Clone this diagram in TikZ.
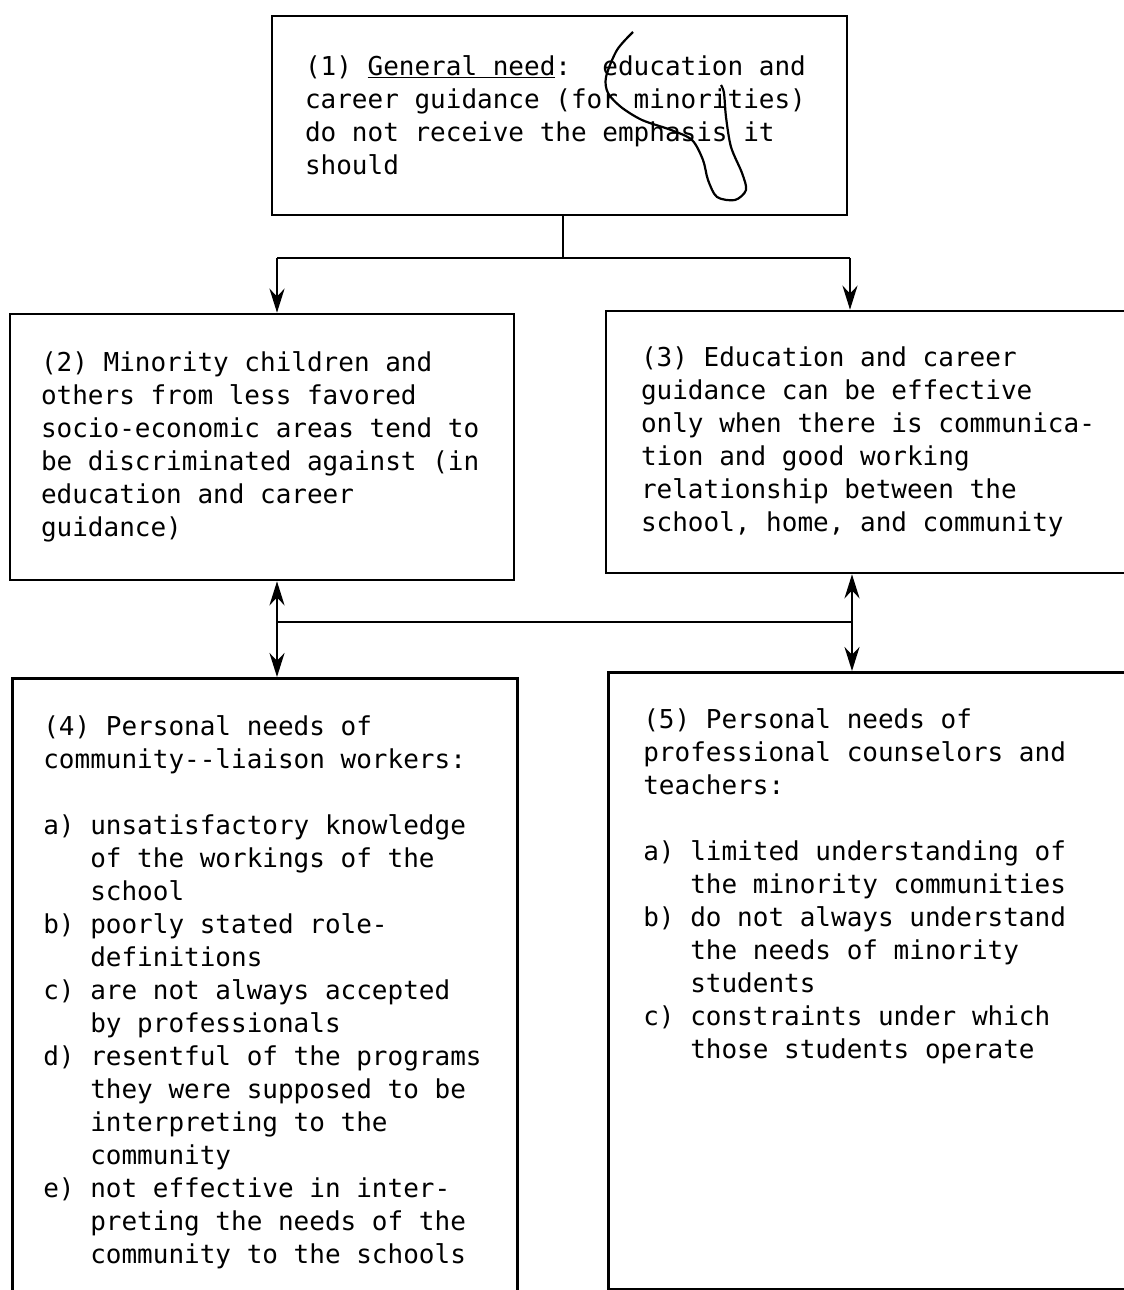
\documentclass[tikz,border=0pt]{standalone}
\usepackage{fontspec}
\setmonofont{DejaVu Sans Mono}
\usetikzlibrary{arrows.meta}

\begin{document}
\begin{tikzpicture}[x=1pt, y=-1pt, line width=2.6pt,
  >={Stealth[length=24pt,width=15pt]},
  needbox/.style={draw, align=left, inner ysep=0pt, font=\ttfamily\fontsize{26}{33}\selectfont,
    execute at begin node={\spaceskip=0pt\xspaceskip=0pt}},
  panel/.style={draw, anchor=north west, inner sep=0pt},
  itemlist/.style={anchor=north west, inner sep=0pt, align=left, font=\ttfamily\fontsize{26}{33}\selectfont}]
\useasboundingbox (0,0) rectangle (1124,1290);
\clip (0,0) rectangle (1124,1290);

% top box
\node[needbox, minimum width=575, minimum height=199, inner xsep=33, text width=509] (need) at (559.5,115.5)
  {(1) \underline{General need}:~ education and\\
   career guidance (for minorities)\\
   do not receive the emphasis it\\
   should};

% middle row
\node[needbox, minimum width=504, minimum height=266, inner xsep=31, text width=442] (discrim) at (262,447)
  {(2) Minority children and\\
   others from less favored\\
   socio-economic areas tend to\\
   be discriminated against (in\\
   education and career\\
   guidance)};
\node[needbox, minimum width=554, minimum height=262, inner xsep=35, text width=484] (commun) at (883,442)
  {(3) Education and career\\
   guidance can be effective\\
   only when there is communica-\\
   tion and good working\\
   relationship between the\\
   school, home, and community};

% bottom row
\node[panel, minimum width=505, minimum height=653] (liaison) at (11,677) {};
\node[panel, minimum width=553, minimum height=617] (counsel) at (607,671) {};

\node[itemlist] (liaisonlist) at ([shift={(31,37)}]liaison.north west)
  {(4) Personal needs of\\
   community--liaison workers:\\[33pt]
   a) unsatisfactory knowledge\\
   \hphantom{a)~}of the workings of the\\
   \hphantom{a)~}school\\
   b) poorly stated role-\\
   \hphantom{a)~}definitions\\
   c) are not always accepted\\
   \hphantom{a)~}by professionals\\
   d) resentful of the programs\\
   \hphantom{a)~}they were supposed to be\\
   \hphantom{a)~}interpreting to the\\
   \hphantom{a)~}community\\
   e) not effective in inter-\\
   \hphantom{a)~}preting the needs of the\\
   \hphantom{a)~}community to the schools};
\node[itemlist] (counsellist) at ([shift={(35,36)}]counsel.north west)
  {(5) Personal needs of\\
   professional counselors and\\
   teachers:\\[33pt]
   a) limited understanding of\\
   \hphantom{a)~}the minority communities\\
   b) do not always understand\\
   \hphantom{a)~}the needs of minority\\
   \hphantom{a)~}students\\
   c) constraints under which\\
   \hphantom{a)~}those students operate};

% connectors
\coordinate (fork) at (563,258);
\coordinate (forkL) at (277,258);
\coordinate (forkR) at (850,258);
\coordinate (midL) at (277,622);
\coordinate (midR) at (852,622);

\draw (fork |- need.south) -- (fork);
\draw (forkL) -- (forkR);
\draw[->] (forkL) -- (forkL |- discrim.north);
\draw[->] (forkR) -- (forkR |- commun.north);

\draw[<->] (midL |- discrim.south) -- (midL |- liaison.north);
\draw[<->] (midR |- commun.south) -- (midR |- counsel.north);
\draw (midL) -- (midR);

% pen mark
\draw[line width=2.2pt] plot[smooth] coordinates {(633,32) (617,50) (606,77) (608,93) (621,107) (642,120)
  (671,130) (692,140) (703,160) (708,180) (717,197) (735,200) (746,190) (742,173) (731,147) (726,117) (724,93) (721,85)};
\end{tikzpicture}
\end{document}
